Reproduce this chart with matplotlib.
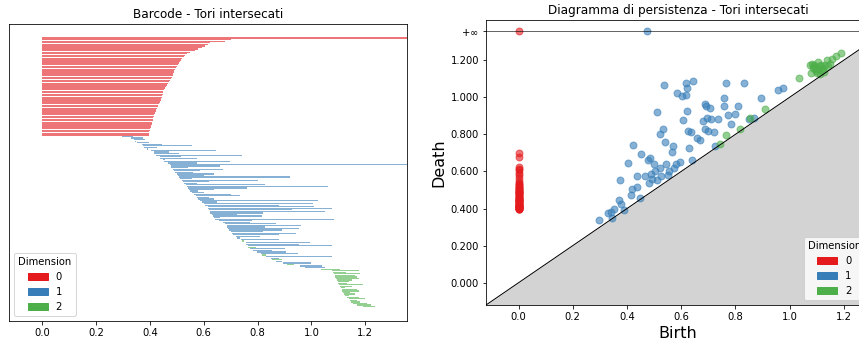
import numpy as np
import matplotlib
matplotlib.use("Agg")
import matplotlib.pyplot as plt
import matplotlib.patches as mpatches

# ---------------- data ----------------
# dimension 0: all born at 0, deaths (one infinite bar)
h0_inf_births = [0.0]
h0_deaths = [0.700, 0.680, 0.622, 0.615, 0.605, 0.592, 0.580, 0.566, 0.550, 0.538,
             0.530, 0.526, 0.521, 0.517, 0.513, 0.509, 0.505, 0.502, 0.498, 0.494,
             0.491, 0.489, 0.487, 0.485, 0.482, 0.478, 0.474, 0.471, 0.467, 0.463,
             0.460, 0.457, 0.454, 0.450, 0.448, 0.447, 0.445, 0.444, 0.442, 0.440,
             0.437, 0.434, 0.431, 0.429, 0.426, 0.423, 0.421, 0.418, 0.416, 0.414,
             0.413, 0.412, 0.411, 0.409, 0.407, 0.405, 0.404, 0.402, 0.400, 0.398,
             0.397, 0.396]

# dimension 1
h1_inf_births = [0.474]
h1_births = [0.297, 0.331, 0.341, 0.344, 0.353, 0.372, 0.374, 0.379, 0.388, 0.405,
             0.415, 0.417, 0.423, 0.436, 0.436, 0.448, 0.453, 0.466, 0.478, 0.480,
             0.485, 0.488, 0.492, 0.500, 0.505, 0.509, 0.512, 0.520, 0.522, 0.526,
             0.534, 0.537, 0.540, 0.545, 0.550, 0.555, 0.565, 0.570, 0.575, 0.580,
             0.585, 0.595, 0.601, 0.605, 0.616, 0.617, 0.620, 0.622, 0.625, 0.630,
             0.635, 0.640, 0.642, 0.658, 0.670, 0.680, 0.686, 0.688, 0.690, 0.695,
             0.700, 0.706, 0.710, 0.720, 0.725, 0.737, 0.756, 0.757, 0.764, 0.771,
             0.784, 0.798, 0.811, 0.833, 0.850, 0.870, 0.893, 0.957, 0.975]
h1_deaths = [0.336, 0.376, 0.381, 0.348, 0.396, 0.444, 0.556, 0.426, 0.392, 0.645,
             0.472, 0.507, 0.743, 0.516, 0.574, 0.455, 0.696, 0.575, 0.660, 0.540,
             0.672, 0.585, 0.560, 0.640, 0.600, 0.921, 0.555, 0.800, 0.620, 0.575,
             0.826, 1.063, 0.760, 0.640, 0.580, 0.600, 0.703, 0.735, 0.620, 0.640,
             1.025, 0.650, 1.005, 0.878, 1.010, 1.077, 0.928, 1.052, 0.820, 0.725,
             0.815, 0.660, 1.085, 0.780, 0.770, 0.870, 0.962, 0.829, 0.955, 0.890,
             0.820, 0.941, 0.880, 0.810, 0.735, 0.880, 0.996, 0.952, 1.077, 0.903,
             0.854, 0.907, 0.951, 1.077, 0.880, 0.890, 0.998, 1.038, 1.049]

# dimension 2
h2_births = [0.742, 0.764, 0.816, 0.853, 0.909, 1.034,
             1.076, 1.080, 1.082, 1.086, 1.088, 1.090, 1.094, 1.097, 1.100, 1.104,
             1.106, 1.110, 1.112, 1.115, 1.119, 1.122, 1.125, 1.131, 1.138, 1.142,
             1.148, 1.155, 1.170, 1.190]
h2_deaths = [0.750, 0.795, 0.831, 0.890, 0.934, 1.106,
             1.175, 1.130, 1.181, 1.160, 1.169, 1.175, 1.150, 1.140, 1.132, 1.190,
             1.150, 1.125, 1.169, 1.175, 1.144, 1.160, 1.138, 1.175, 1.200, 1.169,
             1.180, 1.205, 1.222, 1.236]

dimension_labels = ["0", "1", "2"]
colors = plt.cm.Set1.colors[:3]
alpha = 0.6

# ---------------- assemble ----------------
pers = [(0, b, np.inf) for b in h0_inf_births] + [(0, 0.0, d) for d in h0_deaths]
others = ([(1, b, d) for b, d in zip(h1_births, h1_deaths)]
          + [(1, b, np.inf) for b in h1_inf_births]
          + [(2, b, d) for b, d in zip(h2_births, h2_deaths)])
pers = pers + sorted(others, key=lambda t: t[1])

W, H = 859, 347
fig = plt.figure(figsize=(W / 72, H / 72), dpi=72)
ax1 = fig.add_axes([9.3 / W, (H - 320.7) / H, 398 / W, 296.7 / H])
ax2 = fig.add_axes([486 / W, (H - 305) / H, 384 / W, 285 / H])

# ---------------- barcode ----------------
bc_start, bc_end = -0.122, 1.356
N = len(pers)
ys, widths, lefts, cols = [], [], [], []
for i, (dim, b, d) in enumerate(pers):
    end = d if np.isfinite(d) else bc_end + 0.2
    ys.append(N - 1 - i)
    widths.append(end - b)
    lefts.append(b)
    cols.append(colors[dim])
ax1.barh(ys, widths, height=0.8, left=lefts, alpha=alpha, color=cols, linewidth=0)
ax1.set_xlim(bc_start, bc_end)
ax1.set_yticks([])
ax1.set_title("Barcode - Tori intersecati", fontsize=12)
handles = [mpatches.Patch(color=colors[k], label=dimension_labels[k]) for k in range(3)]
ax1.legend(handles=handles, title="Dimension", loc="lower left")

# ---------------- persistence diagram ----------------
axis_start, axis_end = -0.12, 1.296
infinity, top = 1.356, 1.416
ax2.fill_between([axis_start, axis_end], [axis_start, axis_end], axis_start,
                 color="lightgrey", linewidth=0)
ax2.plot([axis_start, axis_end], [axis_start, axis_end], linewidth=1.0, color="k")
ax2.plot([axis_start, axis_end], [infinity, infinity], linewidth=1.0, color="k", alpha=alpha)
for dim in (0, 1, 2):
    bx = [b for dd, b, d in pers if dd == dim]
    by = [d if np.isfinite(d) else infinity for dd, b, d in pers if dd == dim]
    ax2.scatter(bx, by, s=48, alpha=alpha, color=colors[dim])
yt = [0.0, 0.2, 0.4, 0.6, 0.8, 1.0, 1.2, infinity]
ytl = ["%.3f" % e for e in yt]
ytl[-1] = r"$+\infty$"
ax2.set_yticks(yt)
ax2.set_yticklabels(ytl)
ax2.axis([axis_start, axis_end, axis_start, top])
ax2.set_xlabel("Birth", fontsize=16)
ax2.set_ylabel("Death", fontsize=16)
ax2.set_title("Diagramma di persistenza - Tori intersecati", fontsize=12)
ax2.legend(handles=handles, title="Dimension", loc="lower right")

fig.savefig("out.png", dpi=72)
